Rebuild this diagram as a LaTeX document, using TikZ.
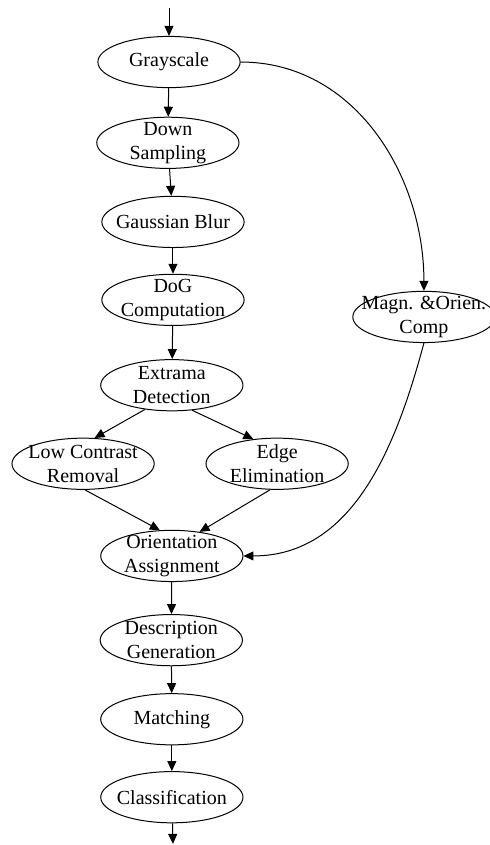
\documentclass[tikz,border=0pt]{standalone}
\usepackage{fontspec}
\setmainfont{Liberation Serif}
\usetikzlibrary{shapes.geometric,arrows.meta}

\begin{document}
\begin{tikzpicture}[
  every node/.style={font=\normalsize, align=center},
  stage/.style={draw, ellipse, line width=0.5pt, inner sep=0pt, minimum width=2.5cm, minimum height=0.9cm, label={[align=center]center:#1}},
  line/.style={draw, line width=0.5pt, -{Triangle[length=5pt,width=4.5pt]}}
]

\useasboundingbox (0, 0) rectangle (8.61, -14.85);

% Main chain
\coordinate (in) at (2.97, -0.14);
\node[stage={Grayscale}] (gray) at (2.97, -1.09) {};
\node[stage={Down\\Sampling}] (down) at (2.95, -2.51) {};
\node[stage={Gaussian Blur}] (blur) at (3.04, -3.90) {};
\node[stage={DoG\\Computation}] (dog) at (3.04, -5.27) {};
\node[stage={Extrama\\Detection}] (ext) at (3.02, -6.77) {};

% Keypoint filtering
\node[stage={Low Contrast\\Removal}] (low) at (1.46, -8.15) {};
\node[stage={Edge\\Elimination}] (edge) at (4.87, -8.15) {};

% Side branch
\node[stage={Magn. \&Orien.\\Comp}] (magn) at (7.45, -5.57) {};

% Lower chain
\node[stage={Orientation\\Assignment}] (ori) at (3.02, -9.77) {};
\node[stage={Description\\Generation}] (desc) at (3.01, -11.25) {};
\node[stage={Matching}] (match) at (3.02, -12.64) {};
\node[stage={Classification}] (cls) at (3.02, -14.01) {};
\coordinate (out) at (3.04, -14.83);

% Lines along the main chain
\draw[line] (in) -- (gray);
\draw[line] (gray) -- (down);
\draw[line] (down) -- (blur);
\draw[line] (blur) -- (dog);
\draw[line] (dog) -- (ext);

% Lines through the filtering step
\draw[line] (ext.222) -- (low.66);
\draw[line] (ext.-51) -- (edge.134);
\draw[line] (low.-86) -- (ori.115);
\draw[line] (edge.-105) -- (ori.41);

% Lines of the side branch
\draw[line] (gray.east) to[out=0, in=90] (magn.north);
\draw[line] (magn.south) to[out=-105, in=0] (ori.east);

% Lines along the lower chain
\draw[line] (ori) -- (desc);
\draw[line] (desc) -- (match);
\draw[line] (match) -- (cls);
\draw[line] (cls) -- (out);

\end{tikzpicture}
\end{document}
